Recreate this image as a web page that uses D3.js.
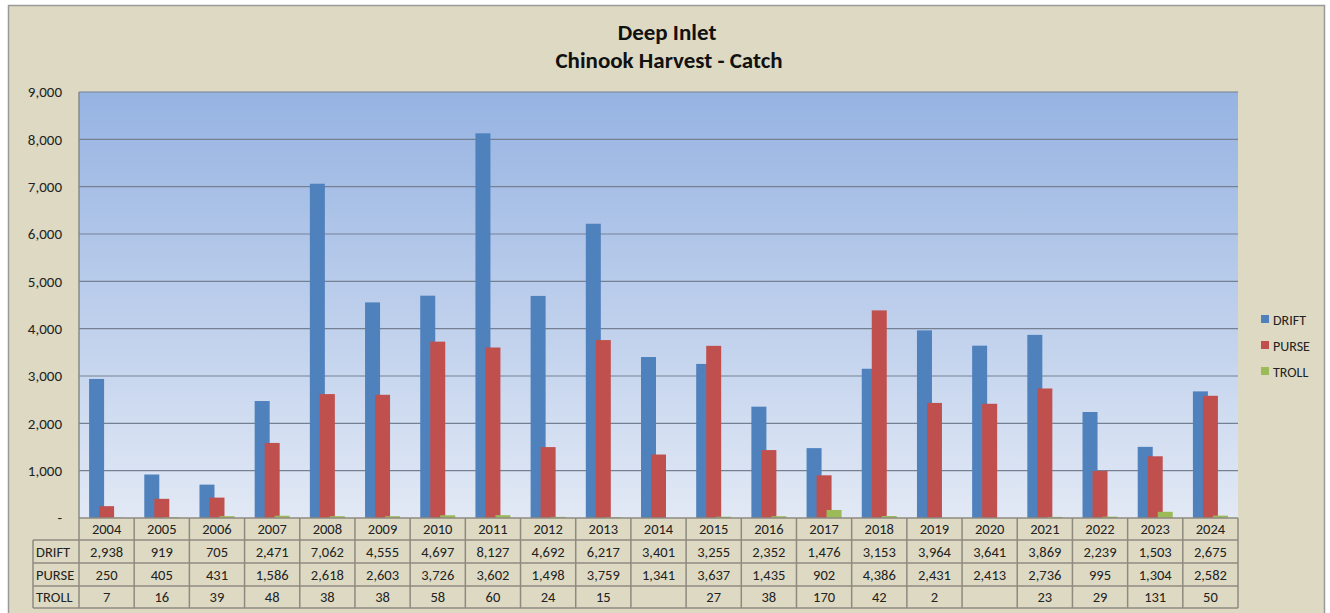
<!DOCTYPE html>
<html>
<head>
<meta charset="utf-8">
<script src="https://cdn.jsdelivr.net/npm/d3@7"></script>
<style>
  body { margin: 0; background: #fff; }
  svg { font-family: Carlito, Lato, "Open Sans", sans-serif; }
</style>
</head>
<body>
<svg width="1330" height="613"></svg>
<script>
"use strict";

// Chart data
var years = ["2004", "2005", "2006", "2007", "2008", "2009", "2010", "2011", "2012", "2013", "2014",
             "2015", "2016", "2017", "2018", "2019", "2020", "2021", "2022", "2023", "2024"];
var seriesNames = ["DRIFT", "PURSE", "TROLL"];
var drift = [2938, 919, 705, 2471, 7062, 4555, 4697, 8127, 4692, 6217, 3401,
             3255, 2352, 1476, 3153, 3964, 3641, 3869, 2239, 1503, 2675];
var purse = [250, 405, 431, 1586, 2618, 2603, 3726, 3602, 1498, 3759, 1341,
             3637, 1435, 902, 4386, 2431, 2413, 2736, 995, 1304, 2582];
var troll = [7, 16, 39, 48, 38, 38, 58, 60, 24, 15, null,
             27, 38, 170, 42, 2, null, 23, 29, 131, 50];
var yTicks = [0, 1000, 2000, 3000, 4000, 5000, 6000, 7000, 8000, 9000];
var colors = ["#4f81bd", "#c0504d", "#9bbb59"];

var allSeries = [drift, purse, troll];

var svg = d3.select("svg");
var fmt = d3.format(",");

// Scales
var xScale = d3.scaleBand()
    .domain(years)
    .range([79, 1238]);

var yScale = d3.scaleLinear()
    .domain([0, 9000])
    .range([518, 92]);

// Offset of each series inside a year
var seriesScale = d3.scalePoint()
    .domain(seriesNames)
    .range([-10, 10]);
var barWidth = 15;

// Outer chart area
svg.append("rect")
    .attr("x", 8.5)
    .attr("y", 5.5)
    .attr("width", 1316)
    .attr("height", 620)
    .attr("fill", "#ddd9c3")
    .attr("stroke", "#9a9a9a")
    .attr("stroke-width", 1.5);

// Plot background gradient
var defs = svg.append("defs");
var grad = defs.append("linearGradient")
    .attr("id", "plotBg")
    .attr("x1", 0).attr("y1", 0)
    .attr("x2", 0).attr("y2", 1);
grad.append("stop").attr("offset", "0%").attr("stop-color", "#96b3e2");
grad.append("stop").attr("offset", "100%").attr("stop-color", "#e2e9f5");

svg.append("rect")
    .attr("x", xScale.range()[0])
    .attr("y", yScale(9000))
    .attr("width", xScale.range()[1] - xScale.range()[0])
    .attr("height", yScale(0) - yScale(9000))
    .attr("fill", "url(#plotBg)");

// Gridlines
svg.append("g")
    .selectAll("line")
    .data(yTicks.filter(function (d) { return d > 0; }))
    .enter().append("line")
        .attr("x1", xScale.range()[0])
        .attr("x2", xScale.range()[1])
        .attr("y1", function (d) { return yScale(d); })
        .attr("y2", function (d) { return yScale(d); })
        .attr("stroke", "#758193")
        .attr("stroke-width", 1.2);

// Left border of plot
svg.append("line")
    .attr("x1", xScale.range()[0]).attr("x2", xScale.range()[0])
    .attr("y1", yScale(9000)).attr("y2", yScale(0))
    .attr("stroke", "#888")
    .attr("stroke-width", 1.5);

// Y axis
var yAxis = d3.axisLeft(yScale)
    .tickValues(yTicks)
    .tickSize(0)
    .tickPadding(17)
    .tickFormat(function (d) { return d === 0 ? "-" : fmt(d); });

var yAxisG = svg.append("g")
    .attr("transform", "translate(" + xScale.range()[0] + ",0)")
    .call(yAxis);
yAxisG.select(".domain").remove();
yAxisG.selectAll("text")
    .attr("font-size", 15)
    .attr("font-family", "Carlito, Lato, sans-serif")
    .attr("fill", "#222");

// Bars
var bars = svg.append("g").attr("class", "bars");
seriesNames.forEach(function (name, si) {
    bars.append("g")
        .selectAll("rect")
        .data(allSeries[si].map(function (v, i) { return { year: years[i], value: v }; })
            .filter(function (d) { return d.value != null; }))
        .enter().append("rect")
            .attr("x", function (d) {
                return xScale(d.year) + xScale.bandwidth() / 2 + seriesScale(name) - barWidth / 2;
            })
            .attr("y", function (d) { return yScale(d.value); })
            .attr("width", barWidth)
            .attr("height", function (d) { return yScale(0) - yScale(d.value); })
            .attr("fill", colors[si]);
});

// Title
svg.append("text")
    .attr("x", 667)
    .attr("y", 40)
    .attr("text-anchor", "middle")
    .attr("font-size", 23)
    .attr("font-weight", "bold")
    .attr("fill", "#111")
    .text("Deep Inlet");
svg.append("text")
    .attr("x", 669)
    .attr("y", 68)
    .attr("text-anchor", "middle")
    .attr("font-size", 23)
    .attr("font-weight", "bold")
    .attr("fill", "#111")
    .text("Chinook Harvest - Catch");

// Legend
var legend = svg.append("g")
    .attr("transform", "translate(1261, 320)");
seriesNames.forEach(function (name, i) {
    legend.append("rect")
        .attr("x", 0)
        .attr("y", i * 26 - 5)
        .attr("width", 8)
        .attr("height", 8)
        .attr("fill", colors[i]);
    legend.append("text")
        .attr("x", 12)
        .attr("y", i * 26 + 4.5)
        .attr("font-size", 14)
        .attr("fill", "#222")
        .text(name);
});

// Data table
var rowEdges = [518, 540, 563, 586, 608];
var labelLeft = 33;
var tableColor = "#8e8a80";
var tableFont = 14.5;
var table = svg.append("g").attr("class", "table");

// Year header
table.selectAll("text.year")
    .data(years)
    .enter().append("text")
        .attr("class", "year")
        .attr("x", function (d) { return xScale(d) + xScale.bandwidth() / 2; })
        .attr("y", (rowEdges[0] + rowEdges[1]) / 2 + 5)
        .attr("text-anchor", "middle")
        .attr("font-size", tableFont)
        .attr("fill", "#222")
        .text(function (d) { return d; });

// Series rows
seriesNames.forEach(function (name, si) {
    var yMid = (rowEdges[si + 1] + rowEdges[si + 2]) / 2 + 5;
    table.append("text")
        .attr("x", labelLeft + 3)
        .attr("y", yMid)
        .attr("font-size", tableFont)
        .attr("fill", "#222")
        .text(name);
    table.append("g")
        .selectAll("text")
        .data(allSeries[si])
        .enter().append("text")
            .attr("x", function (d, i) { return xScale(years[i]) + xScale.bandwidth() / 2; })
            .attr("y", yMid)
            .attr("text-anchor", "middle")
            .attr("font-size", tableFont)
            .attr("fill", "#222")
            .text(function (d) { return d == null ? "" : fmt(d); });
});

// Table grid: horizontal lines
rowEdges.forEach(function (y, i) {
    table.append("line")
        .attr("x1", i === 0 ? xScale.range()[0] : labelLeft)
        .attr("x2", xScale.range()[1])
        .attr("y1", y).attr("y2", y)
        .attr("stroke", tableColor)
        .attr("stroke-width", 1.5);
});

// Table grid: vertical lines
var colEdges = years.map(function (d) { return xScale(d); }).concat([xScale.range()[1]]);
colEdges.forEach(function (x) {
    table.append("line")
        .attr("x1", x).attr("x2", x)
        .attr("y1", rowEdges[0]).attr("y2", rowEdges[4])
        .attr("stroke", tableColor)
        .attr("stroke-width", 1.5);
});
table.append("line")
    .attr("x1", labelLeft).attr("x2", labelLeft)
    .attr("y1", rowEdges[1]).attr("y2", rowEdges[4])
    .attr("stroke", tableColor)
    .attr("stroke-width", 1.5);
</script>
</body>
</html>
